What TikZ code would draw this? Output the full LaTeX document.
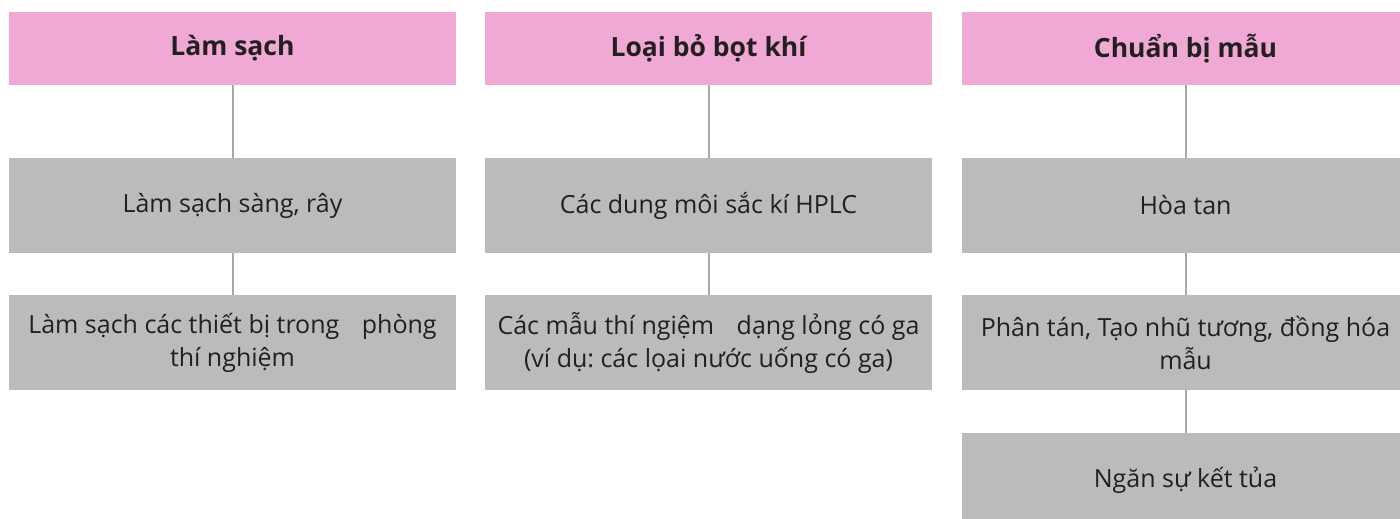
\documentclass[tikz,border=0pt]{standalone}
\usepackage{fontspec}
\setmainfont{Open Sans}
\frenchspacing
\definecolor{pinkc}{RGB}{240,168,212}
\definecolor{grayc}{RGB}{187,187,187}
\definecolor{linec}{RGB}{168,168,168}
\definecolor{txtc}{RGB}{35,31,32}
\begin{document}
\begin{tikzpicture}[x=1pt,y=-1pt,
  headbox/.style={fill=pinkc, minimum width=447pt, minimum height=73pt, inner sep=0pt, text=txtc, font=\fontsize{26.5}{30}\selectfont\bfseries},
  itembox/.style={fill=grayc, minimum width=447pt, minimum height=95pt, inner sep=0pt, align=center, text=txtc, font=\fontsize{25}{33}\selectfont},
  link/.style={draw=linec, line width=2pt}]
\useasboundingbox (0,0) rectangle (1400,519);
\clip (0,0) rectangle (1400,519);
% column 1
\node[headbox] (h1) at (232.5,48.5) {Làm sạch};
\node[itembox] (a1) at (232.5,205.5) {Làm sạch sàng, rây};
\node[itembox] (a2) at (232.5,342.5) {Làm sạch các thiết bị trong\hspace{16pt} phòng\\thí nghiệm};
% column 2
\node[headbox] (h2) at (708.5,48.5) {Loại bỏ bọt khí};
\node[itembox] (b1) at (708.5,205.5) {Các dung môi sắc kí HPLC};
\node[itembox] (b2) at (708.5,342.5) {Các mẫu thí ngiệm\hspace{16pt} dạng lỏng có ga\\(ví dụ: các lọai nước uống có ga)};
% column 3
\node[headbox] (h3) at (1185.5,48.5) {Chuẩn bị mẫu};
\node[itembox] (c1) at (1185.5,205.5) {Hòa tan};
\node[itembox] (c2) at (1185.5,342.5) {Phân tán, Tạo nhũ tương, đồng hóa\\mẫu};
\node[itembox] (c3) at (1185.5,480.5) {Ngăn sự kết tủa};
% connectors
\draw[link] (h1.south) -- (a1.north);
\draw[link] (a1.south) -- (a2.north);
\draw[link] (h2.south) -- (b1.north);
\draw[link] (b1.south) -- (b2.north);
\draw[link] (h3.south) -- (c1.north);
\draw[link] (c1.south) -- (c2.north);
\draw[link] (c2.south) -- (c3.north);
\end{tikzpicture}
\end{document}
